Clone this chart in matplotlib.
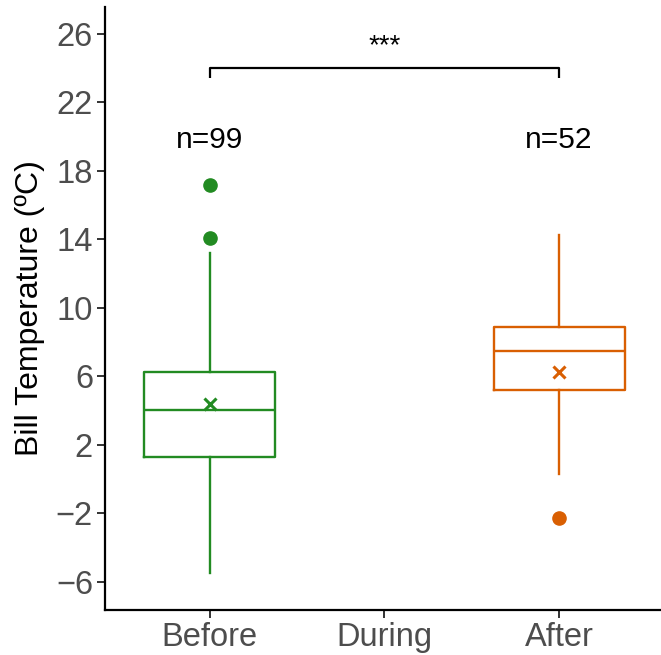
import matplotlib
matplotlib.use("Agg")
import matplotlib.pyplot as plt

plt.rcParams['font.family'] = ['Liberation Sans', 'DejaVu Sans']

# categories and box statistics
categories = ["Before", "During", "After"]
box_pos = [1, 3]
box_colors = ["#228B22", "#D95F02"]
q1 = [1.29, 5.22]
med = [4.01, 7.49]
q3 = [6.25, 8.90]
whislo = [-5.48, 0.30]
whishi = [13.23, 14.27]
means = [4.36, 6.25]
fliers = [[17.18, 14.07], [-2.24]]
n_labels = ["n=99", "n=52"]
n_y = 19.8
bracket_y = 24.0
bracket_drop = 0.6
sig_label = "***"

fig = plt.figure(figsize=(6.61, 6.55), dpi=100)
ax = fig.add_axes([104.7 / 661, 0.069, 559.2 / 661, 0.92])

stats = []
for i in range(len(box_pos)):
    stats.append({"q1": q1[i], "med": med[i], "q3": q3[i],
                  "whislo": whislo[i], "whishi": whishi[i],
                  "fliers": fliers[i], "mean": means[i]})

for i, st in enumerate(stats):
    c = box_colors[i]
    ax.bxp([st], positions=[box_pos[i]], widths=0.75, showcaps=False,
           showmeans=True, showfliers=True,
           boxprops=dict(color=c, linewidth=1.7),
           whiskerprops=dict(color=c, linewidth=1.7),
           medianprops=dict(color=c, linewidth=1.7),
           meanprops=dict(marker="x", markeredgecolor=c, markersize=9,
                          markeredgewidth=2.2),
           flierprops=dict(marker="o", markerfacecolor=c, markeredgecolor=c,
                           markersize=9.5))

for i, lab in enumerate(n_labels):
    ax.text(box_pos[i], n_y, lab, ha="center", va="center", fontsize=21.5)

# significance bracket
ax.plot([box_pos[0], box_pos[0], box_pos[1], box_pos[1]],
        [bracket_y - bracket_drop, bracket_y, bracket_y, bracket_y - bracket_drop],
        color="black", linewidth=1.6, solid_capstyle="butt")
ax.text((box_pos[0] + box_pos[1]) / 2, bracket_y + 0.55, sig_label,
        ha="center", va="bottom", fontsize=20)

ax.set_xlim(0.4, 3.6)
ax.set_ylim(-7.63, 27.56)
ax.set_xticks([1, 2, 3])
ax.set_xticklabels(categories)
ax.set_yticks(list(range(-6, 27, 4)))
ax.set_yticklabels([str(v).replace("-", "\u2212") for v in range(-6, 27, 4)])
ax.set_ylabel("Bill Temperature (ºC)", fontsize=23, labelpad=8)

for side in ["top", "right"]:
    ax.spines[side].set_visible(False)
for side in ["left", "bottom"]:
    ax.spines[side].set_linewidth(1.6)
ax.tick_params(axis="both", labelsize=23.5, labelcolor="#4D4D4D",
               length=5.5, width=1.4, color="#333333", pad=3)

fig.savefig("out.png", dpi=100)
